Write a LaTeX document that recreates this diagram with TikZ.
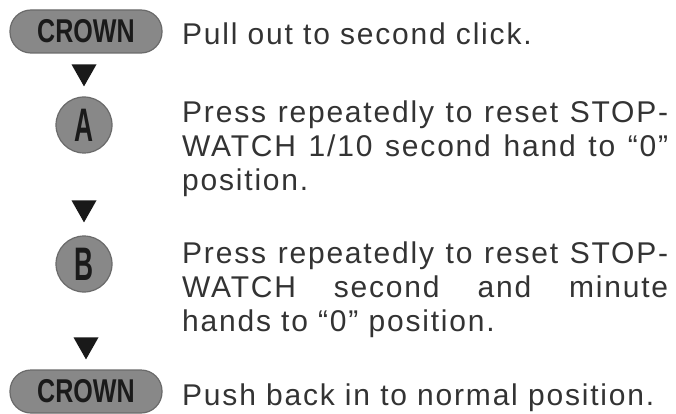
\documentclass[tikz,border=0pt]{standalone}
\usepackage{fontspec}
\setmainfont{Liberation Sans}[LetterSpace=6]
\newfontfamily\keyfont{Liberation Sans}
\usetikzlibrary{positioning}

\definecolor{keygray}{HTML}{888888}
\definecolor{keyline}{HTML}{6A6A6A}
\definecolor{inktext}{HTML}{333333}
\definecolor{keyink}{HTML}{1A1A1A}

\tikzset{
  crownkey/.style={draw=keyline, line width=1.2pt, fill=keygray, rounded corners=21pt,
    minimum width=152pt, minimum height=43pt, inner sep=0pt, text=keyink,
    font=\keyfont\bfseries\fontsize{33}{33}\selectfont},
  pushkey/.style={circle, draw=keyline, line width=1.2pt, fill=keygray,
    minimum size=56pt, inner sep=0pt, text=keyink,
    font=\keyfont\bfseries\fontsize{47}{47}\selectfont},
  steptext/.style={anchor=base west, inner sep=0pt, text=inktext,
    font=\fontsize{30}{34}\selectfont},
  stepbox/.style={steptext, text width=486pt, align=justify},
  steptip/.style={fill=black!90}
}

\begin{document}
\begin{tikzpicture}[x=1pt,y=1pt]
      \useasboundingbox (0,0) rectangle (676,-414);
      %%%%%%%%%%%%%%%%%%%%%%%%%%%%%%%%%%%%%%%%%%%%%%%
      \node[crownkey] at (86,-31.5) (c1) {\scalebox{0.76}[1]{CROWN}};
      \node[steptext] at (182,-45)  (s1) {Pull out to second click.};
      %%%%%%%%%%%%%%%%%%%%%%%%%%%%%%%%%%%%%%%%%%%%%%%
      \node[pushkey] at (84,-125) (a) {\scalebox{0.56}[1]{A}};
      \node[stepbox] at (182,-123) (s2) {Press repeatedly to reset STOP-\linebreak
            WATCH 1/10 second hand to “0”\linebreak position.};
      \coordinate[above=10pt of a] (t1);
      \fill[steptip] (t1) -- ++(-12.5,22) -- ++(25,0) -- cycle;
      %%%%%%%%%%%%%%%%%%%%%%%%%%%%%%%%%%%%%%%%%%%%%%%
      \node[pushkey] at (84,-264) (b) {\scalebox{0.56}[1]{B}};
      \node[stepbox] at (182,-263) (s3) {Press repeatedly to reset STOP-\linebreak
            WATCH second and minute\linebreak hands to “0” position.};
      \coordinate[above=13pt of b] (t2);
      \fill[steptip] (t2) -- ++(-12.5,22) -- ++(25,0) -- cycle;
      %%%%%%%%%%%%%%%%%%%%%%%%%%%%%%%%%%%%%%%%%%%%%%%
      \node[crownkey] at (86,-391.5) (c2) {\scalebox{0.76}[1]{CROWN}};
      \node[steptext] at (182,-405) (s4) {Push back in to normal position.};
      \coordinate[above=10pt of c2] (t3);
      \fill[steptip] (t3) -- ++(-12.5,22) -- ++(25,0) -- cycle;
      %%%%%%%%%%%%%%%%%%%%%%%%%%%%%%%%%%%%%%%%%%%%%%%
\end{tikzpicture}
\end{document}
